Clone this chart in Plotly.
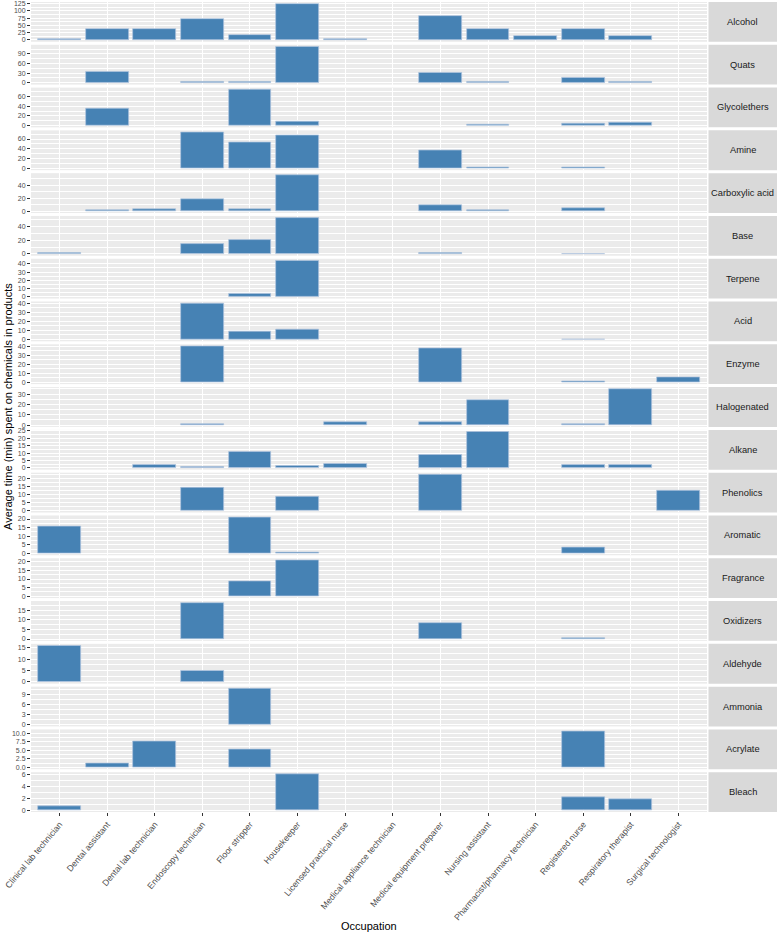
import plotly.graph_objects as go
from plotly.subplots import make_subplots

occupations = [
    "Clinical lab technician", "Dental assistant", "Dental lab technician",
    "Endoscopy technician", "Floor stripper", "Housekeeper",
    "Licensed practical nurse", "Medical appliance technician",
    "Medical equipment preparer", "Nursing assistant",
    "Pharmacist/pharmacy technician", "Registered nurse",
    "Respiratory therapist", "Surgical technologist",
]

chemicals = ["Alcohol", "Quats", "Glycolethers", "Amine", "Carboxylic acid", "Base",
             "Terpene", "Acid", "Enzyme", "Halogenated", "Alkane", "Phenolics",
             "Aromatic", "Fragrance", "Oxidizers", "Aldehyde", "Ammonia",
             "Acrylate", "Bleach"]

N = None
alcohol = [4, 37, 39, 73, 16, 124, 4.5, N, 83, 36, 15, 37.5, 13.5, N]
quats = [N, 35, N, 3, 4, 113, N, N, 32, 4, N, 16.5, 4, N]
glycolethers = [N, 35.5, N, N, 75, 8.4, N, N, N, 2, N, 4, 7, N]
amine = [N, N, N, 74, 53, 68, N, N, 37, 1.4, N, 1.4, N, N]
carboxylic_acid = [N, 1, 2.5, 18.5, 3.6, 56, N, N, 8.7, 1, N, 5, N, N]
base = [1, N, N, 14, 21, 53, N, N, 1, N, N, 0.5, N, N]
terpene = [N, N, N, N, 3.7, 44, N, N, N, N, N, N, N, N]
acid = [N, N, N, 40, 9.3, 11.1, N, N, N, N, N, 0.5, N, N]
enzyme = [N, N, N, 40.4, N, N, N, N, 38.5, N, N, 1.1, N, 5.2]
halogenated = [N, N, N, 1, N, N, 2.8, N, 3, 24.5, N, 1, 35, N]
alkane = [N, N, 2.3, 0.8, 10.5, 1.6, 3, N, 9.1, 24.5, N, 2, 2, N]
phenolics = [N, N, N, 14.3, N, 8.7, N, N, 22.8, N, N, N, N, 12.3]
aromatic = [15.4, N, N, N, 21, 0.6, N, N, N, N, N, 3.2, N, N]
fragrance = [N, N, N, N, 8.6, 21, N, N, N, N, N, N, N, N]
oxidizers = [N, N, N, 18.9, N, N, N, N, 8.6, N, N, 0.3, N, N]
aldehyde = [15.9, N, N, 5, N, N, N, N, N, N, N, N, N, N]
ammonia = [N, N, N, N, 10.9, N, N, N, N, N, N, N, N, N]
acrylate = [N, 1.15, 7.5, N, 5.4, N, N, N, N, N, N, 10.6, N, N]
bleach = [0.62, N, N, N, N, 6.1, N, N, N, N, N, 2.15, 1.8, N]

series = [alcohol, quats, glycolethers, amine, carboxylic_acid, base, terpene, acid,
          enzyme, halogenated, alkane, phenolics, aromatic, fragrance, oxidizers,
          aldehyde, ammonia, acrylate, bleach]

tick_steps = [25, 30, 20, 20, 20, 20, 10, 10, 10, 10, 5, 5, 5, 5, 5, 5, 3, 2.5, 2]

W, H = 777, 934
ML, MR, MT, MB = 31, 70, 2, 122
PW = W - ML - MR
PH = H - MT - MB
nrows = len(chemicals)

fig = make_subplots(rows=nrows, cols=1, shared_xaxes=True,
                    vertical_spacing=3 / PH)

for i, (chem, vals) in enumerate(zip(chemicals, series)):
    fig.add_trace(go.Bar(
        x=occupations, y=vals, width=0.9,
        marker=dict(color="#4682B4", line=dict(color="#B0C4DE", width=0.7)),
        showlegend=False, name=chem,
    ), row=i + 1, col=1)
    m = max(v for v in vals if v is not None)
    step = tick_steps[i]
    yk = "yaxis" if i == 0 else f"yaxis{i+1}"
    fig.layout[yk].update(
        range=[-0.05 * m, 1.05 * m], tick0=0, dtick=step,
        tickformat=".1f" if chem == "Acrylate" else None,
        showgrid=True, gridcolor="white", gridwidth=1.1, zeroline=False,
        ticks="outside", ticklen=3, tickcolor="#333333", tickwidth=0.8,
        tickfont=dict(size=7, color="#4D4D4D"), ticklabeloverflow="allow",
        minor=dict(dtick=step / 2, tick0=0, showgrid=True, gridcolor="white",
                   gridwidth=0.5),
    )
    xk = "xaxis" if i == 0 else f"xaxis{i+1}"
    fig.layout[xk].update(
        type="category", categoryorder="array", categoryarray=occupations,
        range=[-0.6, len(occupations) - 0.4],
        showgrid=True, gridcolor="white", gridwidth=1.1, zeroline=False,
        ticks="outside" if i == nrows - 1 else "", ticklen=3, tickcolor="#333333",
        tickwidth=0.8, ticklabeloverflow="allow",
        tickangle=-50, tickfont=dict(size=8.7, color="#4D4D4D"),
    )
    yref = "y domain" if i == 0 else f"y{i+1} domain"
    fig.add_shape(type="rect", xref="paper", yref=yref,
                  x0=1 + 1.5 / PW, x1=1 + MR / PW, y0=0, y1=1,
                  fillcolor="#D9D9D9", line=dict(width=0), layer="below")
    fig.add_annotation(text=chem, xref="paper", yref=yref,
                       x=1 + (1.5 + MR) / 2 / PW, y=0.5, showarrow=False,
                       xanchor="center", yanchor="middle",
                       font=dict(size=9.3, color="#1A1A1A"))

fig.add_annotation(text="Average time (min) spent on chemicals in products",
                   xref="paper", yref="paper", x=(8 - ML) / PW, y=0.5,
                   textangle=-90, showarrow=False, xanchor="center",
                   yanchor="middle", font=dict(size=11, color="black"))
fig.add_annotation(text="Occupation", xref="paper", yref="paper",
                   x=0.5, y=-(926 - (MT + PH)) / PH, showarrow=False,
                   xanchor="center", yanchor="middle",
                   font=dict(size=11, color="black"))

fig.update_layout(
    width=W, height=H,
    margin=dict(l=ML, r=MR, t=MT, b=MB, autoexpand=False),
    paper_bgcolor="white", plot_bgcolor="#EBEBEB",
    font=dict(family="Liberation Sans, Arial, sans-serif"),
    bargap=0,
)

fig.write_html("out.html", config={"displayModeBar": False},
               post_script="document.body.style.margin='0';document.body.style.overflow='hidden';")
